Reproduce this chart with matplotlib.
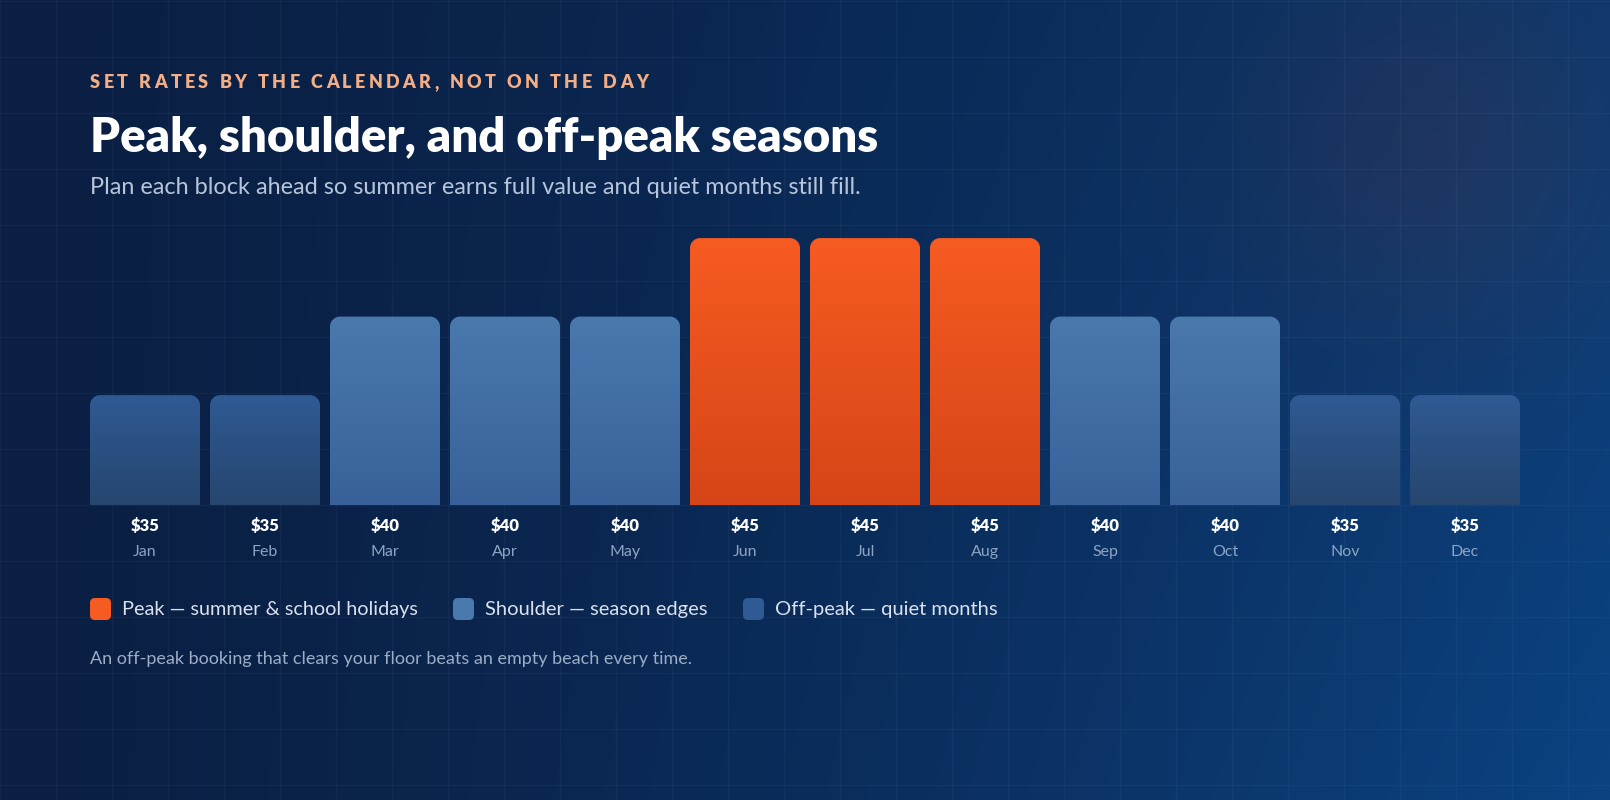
import numpy as np
import matplotlib
matplotlib.use("Agg")
import matplotlib.pyplot as plt
from matplotlib.path import Path
from matplotlib.patches import PathPatch, FancyBboxPatch
from matplotlib.colors import to_rgb

# data
months = ["Jan", "Feb", "Mar", "Apr", "May", "Jun", "Jul", "Aug", "Sep", "Oct", "Nov", "Dec"]
prices = [35, 35, 40, 40, 40, 45, 45, 45, 40, 40, 35, 35]
seasons = ["off", "off", "shoulder", "shoulder", "shoulder", "peak", "peak", "peak",
           "shoulder", "shoulder", "off", "off"]
legend_keys = ["peak", "shoulder", "off"]
legend_labels = ["Peak — summer & school holidays", "Shoulder — season edges", "Off-peak — quiet months"]

kicker = "SET RATES BY THE CALENDAR, NOT ON THE DAY"
title = "Peak, shoulder, and off-peak seasons"
subtitle = "Plan each block ahead so summer earns full value and quiet months still fill."
footnote = "An off-peak booking that clears your floor beats an empty beach every time."

# gradient colours (top, bottom)
grad = {
    "peak": ("#f65b22", "#d64517"),
    "shoulder": ("#4a79ae", "#38619a"),
    "off": ("#2f5a93", "#26466f"),
}

W, H = 1610, 800
plt.rcParams['font.family'] = ['Lato', 'DejaVu Sans']
fig = plt.figure(figsize=(W / 100, H / 100), dpi=100)

# background in pixel coords (y down)
bg = fig.add_axes([0, 0, 1, 1])
bg.set_xlim(0, W)
bg.set_ylim(H, 0)
bg.axis("off")
xx, yy = np.meshgrid(np.linspace(0, 1, 400), np.linspace(0, 1, 200))
t = np.clip(xx ** 1.4 * (0.72 + 0.3 * yy), 0, 1)[..., None]
c0 = np.array(to_rgb("#0a1f43"))
c1 = np.array(to_rgb("#0c4280"))
img = c0 * (1 - t) + c1 * t
gx, gy = 1440 / W, 150 / H
d2 = ((xx - gx) * W) ** 2 + ((yy - gy) * H) ** 2
glow = np.exp(-d2 / (2 * 140 ** 2))[..., None]
img = img + glow * np.array([0.07, 0.0, -0.04])
img = np.clip(img, 0, 1)
bg.imshow(img, extent=(0, W, H, 0), aspect="auto", zorder=0, interpolation="bilinear")
for gxp in range(0, W, 56):
    bg.axvline(gxp, color="white", alpha=0.035, lw=1, zorder=1)
for gyp in range(1, H, 56):
    bg.axhline(gyp, color="white", alpha=0.035, lw=1, zorder=1)
bg.set_xlim(0, W)
bg.set_ylim(H, 0)

renderer = fig.canvas.get_renderer()


def fit_text(x, y, s, width, size, **kw):
    txt = bg.text(x, y, s, fontsize=size, **kw)
    w = txt.get_window_extent(renderer).width
    txt.set_fontsize(size * width / w)
    return txt


def tracked_text(x, y, s, width, size, **kw):
    parts = []
    widths = []
    for ch in s:
        tt = bg.text(0, y, ch, fontsize=size, **kw)
        widths.append(tt.get_window_extent(renderer).width if ch != " " else size * 0.35)
        parts.append(tt)
    extra = (width - sum(widths)) / (len(s) - 1)
    cx = x
    for tt, w in zip(parts, widths):
        tt.set_x(cx)
        cx += w + extra


tracked_text(90, 83, kicker, 558, 13, color="#f4ae85", fontweight="heavy", va="center", ha="left")
fit_text(90, 138, title, 786, 29, color="white", fontweight="heavy", va="center", ha="left")
fit_text(90, 188, subtitle, 774, 15, color="#b7c5da", va="center", ha="left")
fit_text(90, 659, footnote, 601, 12, color="#9cadc6", va="center", ha="left")

# legend
sw_x = [90, 453, 743]
tx_x = [122, 485, 775]
tx_w = [297, 223, 223]
for k, lab, sx, tx, tw in zip(legend_keys, legend_labels, sw_x, tx_x, tx_w):
    bg.add_patch(FancyBboxPatch((sx, 598), 21, 22, boxstyle="round,pad=0,rounding_size=5",
                                fc=grad[k][0], ec="none", zorder=3))
    fit_text(tx, 610, lab, tw, 13.5, color="#d9e1ed", va="center", ha="left")

# bar chart axes: baseline at y=505px, 15.7 px per dollar, bottom at $28
y0, y1 = 28, 45
ax = fig.add_axes([85 / W, (H - 505) / H, 1440 / W, (y1 - y0) * 15.7 / H])
ax.set_xlim(-0.5, 11.5)
ax.set_ylim(y0, y1)
ax.axis("off")
ax.patch.set_alpha(0)

bw = 110 / 120
rx = 10 / 120
ry = 10 / 15.7
k = 0.5523


def top_rounded(x0, x1, b, top):
    verts = [(x0, b), (x0, top - ry),
             (x0, top - ry + k * ry), (x0 + rx - k * rx, top), (x0 + rx, top),
             (x1 - rx, top),
             (x1 - rx + k * rx, top), (x1, top - ry + k * ry), (x1, top - ry),
             (x1, b), (x0, b)]
    codes = [Path.MOVETO, Path.LINETO,
             Path.CURVE4, Path.CURVE4, Path.CURVE4,
             Path.LINETO,
             Path.CURVE4, Path.CURVE4, Path.CURVE4,
             Path.LINETO, Path.CLOSEPOLY]
    return Path(verts, codes)


for i, (m, p, s) in enumerate(zip(months, prices, seasons)):
    x0, x1 = i - bw / 2, i + bw / 2
    patch = PathPatch(top_rounded(x0, x1, y0, p), fc="none", ec="none")
    ax.add_patch(patch)
    ctop, cbot = np.array(to_rgb(grad[s][0])), np.array(to_rgb(grad[s][1]))
    tt = np.linspace(0, 1, 100)[:, None, None]
    col = ctop * (1 - tt) + cbot * tt
    im = ax.imshow(col, extent=(x0, x1, y0, p), origin="upper", aspect="auto",
                   interpolation="bilinear", zorder=2)
    im.set_clip_path(patch)
    ax.annotate(f"${p}", (i, y0), xytext=(0, -21), textcoords="offset pixels",
                ha="center", va="center", color="white", fontsize=12, fontweight="heavy",
                annotation_clip=False)
    ax.annotate(m, (i, y0), xytext=(0, -47), textcoords="offset pixels",
                ha="center", va="center", color="#8ea3c2", fontsize=11.5,
                annotation_clip=False)

ax.set_xlim(-0.5, 11.5)
ax.set_ylim(y0, y1)

fig.savefig("out.png", dpi=100)
